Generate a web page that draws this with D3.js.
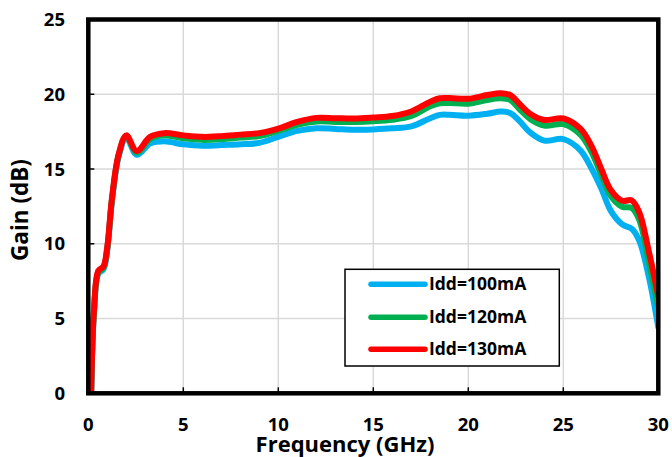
<!DOCTYPE html>
<html><head><meta charset="utf-8">
<script src="https://cdn.jsdelivr.net/npm/d3@7"></script>
<style>body{margin:0;background:#fff;} text{font-family:"Open Sans",Lato,sans-serif;font-weight:bold;}</style>
</head><body><svg id="c" width="672" height="457"></svg>
<script>
const freq = [0.15,0.3,0.53,0.8,1.0,1.25,1.6,2.0,2.55,3.25,4.0,5.0,6.0,7.0,8.0,9.0,10.0,11.0,12.0,13.0,14.0,15.0,16.0,17.0,18.0,18.5,19.0,20.0,21.0,21.7,22.2,22.7,23.25,24.0,25.0,25.9,26.5,27.0,27.5,28.1,28.6,29.0,29.5,30.0];
const gain100 = [0,5.4,8.0,8.3,9.6,12.9,15.85,17.1,15.95,16.7,16.85,16.65,16.55,16.6,16.65,16.75,17.15,17.55,17.73,17.68,17.62,17.65,17.72,17.85,18.4,18.62,18.63,18.57,18.7,18.84,18.75,18.2,17.45,16.9,17.0,16.25,15.0,13.7,12.2,11.3,11.0,10.2,7.8,4.4];
const gain120 = [0,5.5,8.1,8.4,9.7,13.0,15.95,17.2,16.1,17.0,17.25,17.05,16.95,17.0,17.1,17.2,17.55,17.95,18.18,18.15,18.15,18.2,18.3,18.55,19.2,19.4,19.42,19.37,19.62,19.73,19.62,19.0,18.35,17.9,18.0,17.3,16.1,14.6,13.2,12.48,12.4,11.6,8.8,5.8];
const gain130 = [0,5.6,8.2,8.5,9.8,13.1,16.0,17.25,16.2,17.15,17.4,17.25,17.15,17.2,17.3,17.4,17.7,18.15,18.42,18.4,18.38,18.45,18.55,18.85,19.5,19.73,19.75,19.7,19.95,20.07,19.95,19.35,18.7,18.28,18.38,17.7,16.5,15.0,13.6,12.88,12.9,12.1,9.5,6.5];
const seriesNames = ["Idd=100mA","Idd=120mA","Idd=130mA"];
const seriesColors = ["#00B0F0","#00B050","#FF0000"];
const xTicks = [0,5,10,15,20,25,30];
const yTicks = [0,5,10,15,20,25];

const svg = d3.select("#c");
const L=88.3, R=658.3, T=19.5, B=393.3;
const x = d3.scaleLinear().domain([0,30]).range([L,R]);
const y = d3.scaleLinear().domain([0,25]).range([B,T]);

// grid
svg.append("g").selectAll("line").data(xTicks.slice(1,-1)).join("line")
  .attr("x1",d=>x(d)).attr("x2",d=>x(d)).attr("y1",T).attr("y2",B)
  .attr("stroke","#d9d9d9").attr("stroke-width",1.5);
svg.append("g").selectAll("line").data(yTicks.slice(1,-1)).join("line")
  .attr("y1",d=>y(d)).attr("y2",d=>y(d)).attr("x1",L).attr("x2",R)
  .attr("stroke","#d9d9d9").attr("stroke-width",1.5);

// inner ticks
svg.append("g").selectAll("line").data(xTicks.slice(1,-1)).join("line")
  .attr("x1",d=>x(d)).attr("x2",d=>x(d)).attr("y1",B-6).attr("y2",B)
  .attr("stroke","#000").attr("stroke-width",1.5);
svg.append("g").selectAll("line").data(yTicks.slice(1,-1)).join("line")
  .attr("y1",d=>y(d)).attr("y2",d=>y(d)).attr("x1",L).attr("x2",L+6)
  .attr("stroke","#000").attr("stroke-width",1.5);

// clip
svg.append("clipPath").attr("id","clip").append("rect")
  .attr("x",L).attr("y",T).attr("width",R-L).attr("height",B-T);

const line = d3.line().x(d=>x(d[0])).y(d=>y(d[1])).curve(d3.curveCatmullRom.alpha(0.5));
const all = [gain100,gain120,gain130];
const gl = svg.append("g").attr("clip-path","url(#clip)");
all.forEach((vals,i)=>{
  gl.append("path").datum(freq.map((f,j)=>[f,vals[j]]))
    .attr("d",line).attr("fill","none").attr("stroke",seriesColors[i])
    .attr("stroke-width",6).attr("stroke-linejoin","round").attr("stroke-linecap","round");
});

// frame
svg.append("rect").attr("x",L).attr("y",T).attr("width",R-L).attr("height",B-T)
  .attr("fill","none").attr("stroke","#000").attr("stroke-width",4.5);

// tick labels
svg.append("g").selectAll("text").data(xTicks).join("text")
  .attr("x",d=>x(d)).attr("y",430.5).attr("text-anchor","middle")
  .attr("font-size",18.5).text(d=>d);
svg.append("g").selectAll("text").data(yTicks).join("text")
  .attr("x",65).attr("y",d=>y(d)+6.5).attr("text-anchor","end")
  .attr("font-size",18.5).text(d=>d);

// axis titles
svg.append("text").attr("x",345).attr("y",452).attr("text-anchor","middle")
  .attr("font-size",22).text("Frequency (GHz)");
svg.append("text").attr("transform","translate(28,210) rotate(-90)")
  .attr("text-anchor","middle").attr("font-size",22.5).text("Gain (dB)");

// legend
const lg = svg.append("g");
lg.append("rect").attr("x",345).attr("y",269.3).attr("width",214.3).attr("height",96.7)
  .attr("fill","#fff").attr("stroke","#000").attr("stroke-width",1.5);
const rowsY=[284.3,317.3,349.3];
seriesNames.forEach((n,i)=>{
  lg.append("line").attr("x1",371).attr("x2",425).attr("y1",rowsY[i]).attr("y2",rowsY[i])
    .attr("stroke",seriesColors[i]).attr("stroke-width",5.5).attr("stroke-linecap","round");
  lg.append("text").attr("x",429).attr("y",rowsY[i]+6).attr("font-size",17.5).text(n);
});
</script></body></html>
